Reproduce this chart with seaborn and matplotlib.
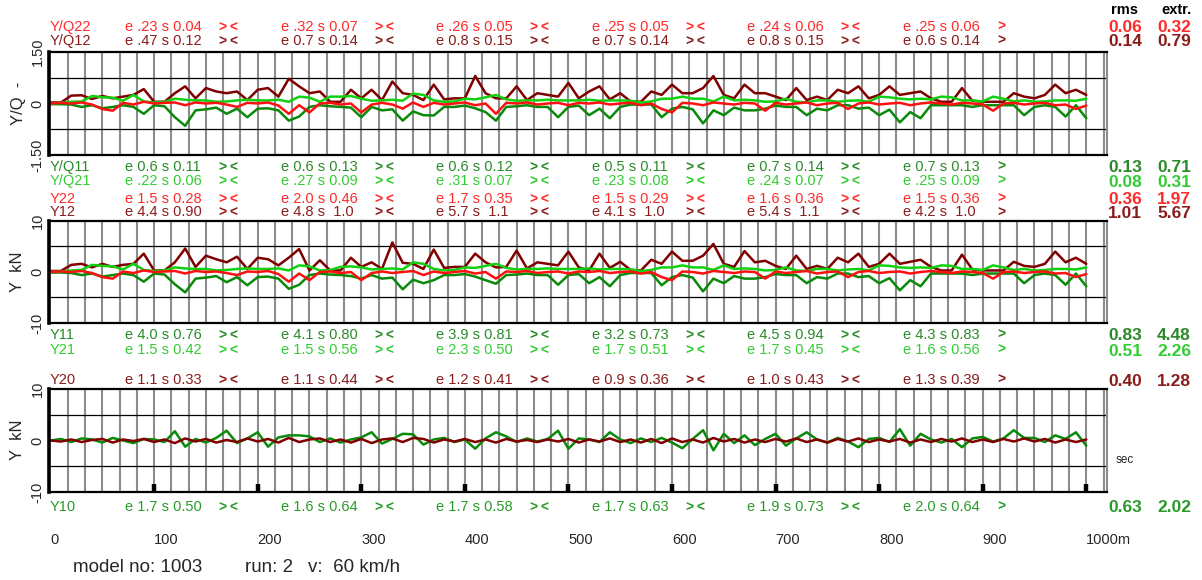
import numpy as np
import pandas as pd
import matplotlib
matplotlib.use("Agg")
import matplotlib.pyplot as plt
import seaborn as sns
from matplotlib.transforms import blended_transform_factory
from matplotlib import font_manager as fm

# ---------------- data ----------------
dist_m = np.arange(0, 1001, 10)

yq12 = [0.03, 0.03, 0.23, 0.24, 0.13, 0.22, 0.15, 0.2, 0.25, 0.42,
        0.05, 0.05, 0.3, 0.5, 0.15, 0.45, 0.35, 0.3, 0.35, 0.1,
        0.4, 0.45, 0.2, 0.72, 0.5, 0.3, 0.35, 0.05, 0.05, 0.4,
        0.15, 0.4, 0.1, 0.64, 0.3, 0.25, 0.1, 0.55, 0.12, 0.15,
        0.15, 0.8, 0.3, 0.15, 0.15, 0.5, 0.1, 0.3, 0.25, 0.2,
        0.6, 0.15, 0.35, 0.5, 0.12, 0.3, 0.06, 0.05, 0.35, 0.25,
        0.55, 0.3, 0.3, 0.45, 0.8, 0.25, 0.15, 0.55, 0.3, 0.3,
        0.2, 0.1, 0.45, 0.1, 0.2, 0.1, 0.4, 0.3, 0.5, 0.15,
        0.25, 0.5, 0.25, 0.3, 0.35, 0.15, 0.05, 0.05, 0.45, 0.08,
        0.05, 0.05, 0.05, 0.3, 0.2, 0.15, 0.25, 0.55, 0.3, 0.4,
        0.25]
yq11 = [-0.02, -0.02, -0.03, -0.1, -0.05, -0.14, -0.1, -0.05, -0.1, -0.3,
        -0.05, -0.08, -0.4, -0.65, -0.2, -0.17, -0.12, -0.3, -0.15, -0.4,
        -0.15, -0.14, -0.2, -0.5, -0.38, -0.1, -0.05, -0.08, -0.1, -0.12,
        -0.4, -0.1, -0.2, -0.17, -0.5, -0.23, -0.34, -0.35, -0.1, -0.1,
        -0.06, -0.14, -0.25, -0.5, -0.1, -0.08, -0.05, -0.1, -0.1, -0.4,
        -0.1, -0.06, -0.34, -0.15, -0.43, -0.1, -0.03, -0.03, -0.03, -0.4,
        -0.15, -0.1, -0.17, -0.58, -0.2, -0.34, -0.12, -0.2, -0.2, -0.15,
        -0.06, -0.1, -0.1, -0.34, -0.15, -0.2, -0.05, -0.05, -0.15, -0.12,
        -0.34, -0.18, -0.55, -0.25, -0.43, -0.05, -0.05, -0.05, -0.05, -0.1,
        -0.05, -0.05, -0.05, -0.05, -0.34, -0.1, -0.05, -0.1, -0.38, -0.05,
        -0.43]
yq21 = [0.0, 0.02, 0.05, 0.06, 0.22, 0.18, 0.17, 0.08, 0.25, 0.06,
        0.03, 0.05, 0.14, 0.11, 0.09, 0.09, 0.05, 0.06, 0.09, 0.11,
        0.09, 0.09, 0.11, 0.05, 0.2, 0.17, 0.05, 0.2, 0.2, 0.22,
        0.14, 0.08, 0.09, 0.11, 0.08, 0.29, 0.25, 0.09, 0.05, 0.06,
        0.14, 0.12, 0.18, 0.25, 0.12, 0.08, 0.09, 0.09, 0.11, 0.09,
        0.09, 0.09, 0.11, 0.08, 0.09, 0.09, 0.08, 0.03, 0.06, 0.14,
        0.14, 0.2, 0.14, 0.14, 0.06, 0.2, 0.09, 0.11, 0.09, 0.05,
        0.06, 0.14, 0.05, 0.03, 0.09, 0.09, 0.05, 0.08, 0.09, 0.05,
        0.2, 0.18, 0.14, 0.12, 0.14, 0.12, 0.2, 0.18, 0.09, 0.09,
        0.06, 0.2, 0.14, 0.06, 0.09, 0.05, 0.06, 0.09, 0.09, 0.08,
        0.14]
yq22 = [0.0, 0.02, 0.0, 0.03, -0.03, -0.16, -0.21, 0.02, -0.03, 0.05,
        0.0, 0.02, 0.03, -0.05, 0.03, 0.0, 0.02, -0.03, -0.1, 0.02,
        0.0, 0.03, -0.06, -0.3, -0.05, -0.26, 0.0, 0.02, -0.03, 0.0,
        -0.26, -0.03, 0.02, -0.03, -0.15, 0.03, -0.1, 0.02, -0.03, 0.0,
        0.03, -0.05, 0.0, -0.3, 0.02, 0.0, 0.03, -0.03, 0.0, 0.02,
        -0.05, 0.02, 0.0, 0.03, -0.03, 0.0, 0.02, -0.05, 0.0, -0.16,
        -0.26, 0.02, 0.0, -0.05, 0.03, 0.0, -0.03, 0.02, 0.0, -0.21,
        0.02, -0.03, 0.0, 0.03, -0.05, 0.0, 0.02, -0.16, 0.0, 0.03,
        -0.03, 0.0, 0.02, -0.05, 0.0, 0.03, 0.0, -0.03, 0.02, 0.0,
        -0.03, -0.21, 0.0, 0.02, -0.03, 0.0, 0.02, -0.05, -0.03, -0.16,
        -0.06]

y12 = [0.2, 0.2, 1.4, 1.6, 0.9, 1.6, 1.0, 1.4, 1.6, 3.6,
       0.3, 0.3, 1.9, 4.6, 1.0, 3.2, 2.5, 1.9, 3.0, 0.6,
       2.8, 2.5, 1.3, 2.8, 4.5, 0.3, 2.3, 0.3, 0.3, 2.8,
       1.0, 1.9, 0.6, 5.8, 1.8, 1.6, 0.6, 4.4, 0.8, 1.0,
       1.0, 3.6, 1.9, 0.9, 1.0, 4.2, 0.7, 1.9, 1.6, 1.3,
       4.0, 0.9, 0.3, 3.6, 0.8, 2.0, 0.4, 0.3, 2.4, 1.6,
       4.0, 2.2, 2.2, 3.2, 5.5, 1.6, 1.0, 4.1, 1.9, 2.2,
       1.2, 0.6, 3.2, 0.6, 1.2, 0.6, 2.8, 1.9, 3.6, 1.0,
       1.6, 3.6, 1.6, 2.0, 2.4, 1.0, 0.3, 0.3, 3.4, 0.5,
       0.3, 0.3, 0.3, 2.0, 1.2, 1.0, 1.6, 4.0, 1.9, 2.8,
       1.6]
y11 = [-0.1, -0.1, -0.2, -0.6, -0.3, -0.9, -0.6, -0.3, -0.6, -1.9,
       -0.3, -0.5, -2.4, -4.0, -1.3, -1.1, -0.8, -2.0, -1.0, -2.6,
       -1.0, -0.9, -1.3, -3.3, -2.5, -0.6, -0.3, -0.5, -0.6, -0.8,
       -1.3, -0.6, -1.3, -1.1, -3.4, -1.5, -2.2, -1.6, -0.6, -0.6,
       -0.4, -0.9, -1.6, -2.3, -0.6, -0.5, -0.3, -0.6, -0.6, -2.5,
       -0.6, -0.4, -2.2, -1.0, -2.8, -0.6, -0.2, -0.2, -0.2, -2.6,
       -1.0, -0.6, -1.1, -3.8, -1.3, -2.2, -0.8, -1.3, -1.3, -1.0,
       -0.4, -0.6, -0.6, -2.2, -1.0, -1.3, -0.3, -0.3, -1.0, -0.8,
       -2.2, -1.2, -3.6, -1.6, -2.8, -0.3, -0.3, -0.3, -0.3, -0.6,
       -0.3, -0.3, -0.3, -0.3, -2.2, -0.6, -0.3, -0.6, -2.5, -0.3,
       -2.8]
y21 = [0.0, 0.1, 0.3, 0.4, 1.4, 1.2, 1.1, 0.5, 1.6, 0.4,
       0.2, 0.3, 0.9, 0.7, 0.6, 0.6, 0.3, 0.4, 0.6, 0.7,
       0.6, 0.6, 0.7, 0.3, 1.3, 1.1, 0.3, 0.4, 1.0, 1.1,
       0.9, 0.5, 0.6, 0.7, 0.5, 1.9, 1.6, 0.6, 0.3, 0.4,
       0.9, 0.8, 1.2, 1.6, 0.8, 0.5, 0.6, 0.6, 0.7, 0.6,
       0.6, 0.6, 0.7, 0.5, 0.6, 0.6, 0.5, 0.2, 0.4, 0.9,
       0.9, 1.3, 0.9, 0.9, 0.4, 1.3, 0.6, 0.7, 0.6, 0.3,
       0.4, 0.9, 0.3, 0.2, 0.6, 0.6, 0.3, 0.5, 0.6, 0.3,
       1.3, 1.2, 0.9, 0.8, 0.9, 0.8, 1.3, 1.2, 0.6, 0.6,
       0.4, 1.3, 0.9, 0.4, 0.6, 0.3, 0.4, 0.6, 0.6, 0.5,
       0.9]
y22 = [0.0, 0.1, 0.0, 0.2, -0.2, -1.0, -1.3, 0.1, -0.2, 0.3,
       0.0, 0.1, 0.2, -0.3, 0.2, 0.0, 0.1, -0.2, -0.6, 0.1,
       0.0, 0.2, -0.4, -1.9, -0.3, -1.6, 0.0, 0.1, -0.2, 0.0,
       -1.6, -0.2, 0.1, -0.2, 0.0, 0.2, -0.6, 0.1, -0.2, 0.0,
       0.2, -0.3, 0.0, -1.3, 0.1, 0.0, 0.2, -0.2, 0.0, 0.1,
       -0.3, 0.1, 0.0, 0.2, -0.2, 0.0, 0.1, -0.3, 0.0, -1.0,
       -1.6, 0.1, 0.0, -0.3, 0.2, 0.0, -0.2, 0.1, 0.0, -1.3,
       0.1, -0.2, 0.0, 0.2, -0.3, 0.0, 0.1, -1.0, 0.0, 0.2,
       -0.2, 0.0, 0.1, -0.3, 0.0, 0.2, 0.0, -0.2, 0.1, 0.0,
       -0.2, -1.3, 0.0, 0.1, -0.2, 0.0, 0.1, -0.3, -0.2, -1.0,
       -0.4]

y10 = [0.0, 0.3, -0.3, 0.4, 0.2, -0.4, 0.5, 0.0, -0.5, 0.3,
       0.2, -0.3, 1.8, -1.2, 0.3, -0.4, 0.5, 1.9, -0.5, 0.4,
       1.6, -1.2, 0.6, 1.0, 1.0, 0.8, -0.3, 0.4, -0.4, 0.2,
       0.6, 1.6, -0.6, 0.3, 1.3, 1.2, -0.8, 0.2, 0.5, -0.3,
       0.2, -1.6, 0.4, 1.6, 0.8, -0.3, 0.4, -0.2, 0.3, 1.9,
       -1.6, 0.4, 0.2, -0.3, 1.6, 0.2, -0.5, 0.4, -0.3, 0.5,
       -0.4, -1.5, 0.3, 2.0, -1.9, 1.3, -0.5, 1.0, -0.9, 0.3,
       1.3, -1.0, 0.4, 1.6, 0.2, -0.4, 0.5, -0.2, -1.3, 0.3,
       0.5, -0.3, 2.2, -1.0, 1.3, 0.2, -0.4, 0.3, -1.3, 0.4,
       0.7, -0.2, 0.4, 2.0, 0.5, 0.5, -0.3, 1.0, 0.3, 1.6,
       -1.0]
y20 = [0.0, -0.2, 0.2, -0.3, 0.1, 0.3, -0.4, 0.2, -0.1, 0.3,
       -0.3, 0.2, -0.5, 0.4, -0.2, 0.3, -0.4, 0.1, -0.3, 0.4,
       -0.2, 0.3, -0.4, 0.5, -0.3, 0.2, 0.4, -0.3, 0.2, -0.4,
       0.3, -0.5, 0.2, 0.4, -0.3, 0.5, 0.3, -0.4, 0.2, -0.2,
       0.3, -0.3, 0.2, -0.4, 0.3, -0.2, 0.1, -0.3, 0.2, -0.2,
       0.3, -0.4, 0.2, -0.2, 0.4, -0.3, 0.2, -0.4, 0.3, -0.5,
       0.4, -0.3, 0.2, -0.4, 0.5, -0.2, 0.3, -0.4, 0.2, -0.3,
       0.3, -0.2, 0.4, -0.3, 0.2, -0.4, 0.3, -0.2, 0.4, -0.3,
       0.2, -0.2, 0.3, -0.4, 0.2, -0.3, 0.3, -0.2, 0.4, -0.3,
       0.2, -0.3, 0.3, -0.2, 0.4, -0.2, 0.3, -0.4, 0.2, -0.3,
       0.2]

# statistic rows: (label, color, [segment texts], rms, extr)
rows_top = [
    ("Y/Q22", "red", ["e .23 s 0.04", "e .32 s 0.07", "e .26 s 0.05", "e .25 s 0.05", "e .24 s 0.06", "e .25 s 0.06"], "0.06", "0.32"),
    ("Y/Q12", "dred", ["e .47 s 0.12", "e 0.7 s 0.14", "e 0.8 s 0.15", "e 0.7 s 0.14", "e 0.8 s 0.15", "e 0.6 s 0.14"], "0.14", "0.79"),
]
rows_mid1 = [
    ("Y/Q11", "dgreen", ["e 0.6 s 0.11", "e 0.6 s 0.13", "e 0.6 s 0.12", "e 0.5 s 0.11", "e 0.7 s 0.14", "e 0.7 s 0.13"], "0.13", "0.71"),
    ("Y/Q21", "lgreen", ["e .22 s 0.06", "e .27 s 0.09", "e .31 s 0.07", "e .23 s 0.08", "e .24 s 0.07", "e .25 s 0.09"], "0.08", "0.31"),
]
rows_mid2 = [
    ("Y22", "red", ["e 1.5 s 0.28", "e 2.0 s 0.46", "e 1.7 s 0.35", "e 1.5 s 0.29", "e 1.6 s 0.36", "e 1.5 s 0.36"], "0.36", "1.97"),
    ("Y12", "dred", ["e 4.4 s 0.90", "e 4.8 s  1.0", "e 5.7 s  1.1", "e 4.1 s  1.0", "e 5.4 s  1.1", "e 4.2 s  1.0"], "1.01", "5.67"),
]
rows_mid3 = [
    ("Y11", "dgreen", ["e 4.0 s 0.76", "e 4.1 s 0.80", "e 3.9 s 0.81", "e 3.2 s 0.73", "e 4.5 s 0.94", "e 4.3 s 0.83"], "0.83", "4.48"),
    ("Y21", "lgreen", ["e 1.5 s 0.42", "e 1.5 s 0.56", "e 2.3 s 0.50", "e 1.7 s 0.51", "e 1.7 s 0.45", "e 1.6 s 0.56"], "0.51", "2.26"),
]
rows_mid4 = [
    ("Y20", "dred", ["e 1.1 s 0.33", "e 1.1 s 0.44", "e 1.2 s 0.41", "e 0.9 s 0.36", "e 1.0 s 0.43", "e 1.3 s 0.39"], "0.40", "1.28"),
]
rows_bot = [
    ("Y10", "green", ["e 1.7 s 0.50", "e 1.6 s 0.64", "e 1.7 s 0.58", "e 1.7 s 0.63", "e 1.9 s 0.73", "e 2.0 s 0.64"], "0.63", "2.02"),
]
xtick_vals = [0, 100, 200, 300, 400, 500, 600, 700, 800, 900, 1000]
xtick_text = ["0", "100", "200", "300", "400", "500", "600", "700", "800", "900", "1000m"]

# ---------------- style ----------------
sns.set_style("white")
plt.rcParams['font.family'] = ['Liberation Sans', 'DejaVu Sans']
names = {f.name for f in fm.fontManager.ttflist}
NARROW = 'Liberation Sans Narrow' if 'Liberation Sans Narrow' in names else 'Liberation Sans'

COL_LINE = {"dred": "#800000", "red": "#ff1010", "dgreen": "#0a8a0a", "lgreen": "#10d010", "green": "#0a8a0a"}
COL_TEXT = {"dred": "#8b1c1c", "red": "#ff2a2a", "dgreen": "#2a8a2a", "lgreen": "#33cc33", "green": "#2a9a2a"}

W, H = 1202, 580
fig = plt.figure(figsize=(W / 100, H / 100), dpi=100)
fig.patch.set_facecolor("white")

def fx(px):
    return px / W

def fy(py):
    return 1 - py / H

L, R = 49, 1107
X0, X1 = -1.5, 1020
panels = [(52, 155), (221, 323), (389, 492)]
ylims = [1.5, 10, 10]
ygrid = [0.75, 5, 5]
ytl = [["-1.50", "0", "1.50"], ["-10", "0", "10"], ["-10", "0", "10"]]
second = 1000.0 / 60.0  # 1 s at 60 km/h

axes = []
for i, (top, bot) in enumerate(panels):
    ax = fig.add_axes([fx(L), fy(bot), fx(R) - fx(L), (bot - top) / H])
    ax.set_xlim(X0, X1)
    lim = ylims[i]
    ax.set_ylim(-lim, lim)
    ax.set_yticks([-ygrid[i], 0, ygrid[i]], minor=True)
    ax.set_yticks([-lim, 0, lim])
    ax.set_yticklabels(ytl[i], rotation=90, va="center")
    ax.tick_params(axis="y", which="both", length=0, pad=3, labelsize=10.5)
    ax.grid(False)
    ax.set_axisbelow(True)
    ax.spines["left"].set_linewidth(2.6)
    for s in ["top", "bottom"]:
        ax.spines[s].set_linewidth(1.6)
    for s in ["left", "top", "bottom"]:
        ax.spines[s].set_color("black")
    ax.spines["right"].set_color("#8c8c8c")
    ax.spines["right"].set_linewidth(1.5)
    axes.append(ax)

ax1, ax2, ax3 = axes

def draw(ax, series):
    for y, key in series:
        sns.lineplot(x=dist_m, y=y, ax=ax, color=COL_LINE[key], linewidth=1.8,
                     estimator=None, sort=False, legend=False)
    ax.set_xlabel("")
    ax.set_ylabel("")

draw(ax1, [(yq12, "dred"), (yq11, "dgreen"), (yq21, "lgreen"), (yq22, "red")])
draw(ax2, [(y12, "dred"), (y11, "dgreen"), (y21, "lgreen"), (y22, "red")])
draw(ax3, [(y10, "green"), (y20, "dred")])

for i, ax in enumerate(axes):
    ax.set_xlim(X0, X1)
    ax.set_ylim(-ylims[i], ylims[i])
    ax.xaxis.remove_overlapping_locs = False
    ax.set_xticks([])
    ax.set_xticks(np.arange(second, X1, second), minor=True)
    ax.grid(True, which="minor", axis="x", color="#8c8c8c", lw=1.5)
    ax.grid(True, which="minor", axis="y", color="black", lw=0.9)
    ax.tick_params(axis="x", which="minor", length=0)

# 100 m marks on the bottom panel (short thick bars rising from the bottom edge)
ax3.vlines(xtick_vals[1:], -ylims[2], -ylims[2] + 1.6, colors="black", linewidth=3.2, zorder=6)

# ---------------- texts ----------------
FS = 10.5
col_x0, col_dx, mark_dx = 125, 155.6, 94

def put_rows(rows, y0, dy):
    for r, (lab, key, segs, rms, ext) in enumerate(rows):
        y = y0 + r * dy
        c = COL_TEXT[key]
        fig.text(fx(50), fy(y), lab, color=c, fontsize=FS, va="center", ha="left")
        for k, s in enumerate(segs):
            x = col_x0 + k * col_dx
            fig.text(fx(x), fy(y), s, color=c, fontsize=FS, va="center", ha="left")
            mk = ">\u2009<" if k < len(segs) - 1 else ">"
            fig.text(fx(x + mark_dx), fy(y), mk, color=c, fontsize=10, va="center",
                     ha="left", fontweight="bold")
        fig.text(fx(1125), fy(y + 1), rms, color=c, fontsize=12.5, va="center", ha="center",
                 fontweight="bold", family=NARROW)
        fig.text(fx(1174), fy(y + 1), ext, color=c, fontsize=12.5, va="center", ha="center",
                 fontweight="bold", family=NARROW)

fig.text(fx(1125), fy(10), "rms", color="black", fontsize=10.5, va="center", ha="center",
         fontweight="bold", family=NARROW)
fig.text(fx(1176), fy(10), "extr.", color="black", fontsize=10.5, va="center", ha="center",
         fontweight="bold", family=NARROW)

put_rows(rows_top, 27, 14)
put_rows(rows_mid1, 167, 14)
put_rows(rows_mid2, 199, 13.5)
put_rows(rows_mid3, 335, 15)
put_rows(rows_mid4, 380, 14)
put_rows(rows_bot, 507, 14)

# y labels
fig.text(fx(18), fy(103), "Y/Q  -", rotation=90, fontsize=12, va="center", ha="center")
fig.text(fx(18), fy(272), "Y  kN", rotation=90, fontsize=12, va="center", ha="center")
fig.text(fx(18), fy(440), "Y  kN", rotation=90, fontsize=12, va="center", ha="center")

# x tick labels (left aligned at their distance)
tr = blended_transform_factory(ax3.transData, fig.transFigure)
for v, t in zip(xtick_vals, xtick_text):
    ax3.text(v, fy(540), t, transform=tr, fontsize=10.5, va="center", ha="left", clip_on=False)

fig.text(fx(1116), fy(460), "sec", fontsize=8.5, va="center", ha="left")

fig.text(fx(73), fy(568), "model no: 1003", fontsize=13.5, va="center", ha="left")
fig.text(fx(245), fy(568), "run: 2", fontsize=13.5, va="center", ha="left")
fig.text(fx(308), fy(568), "v:  60 km/h", fontsize=13.5, va="center", ha="left")

fig.savefig("out.png", dpi=100, facecolor="white")
